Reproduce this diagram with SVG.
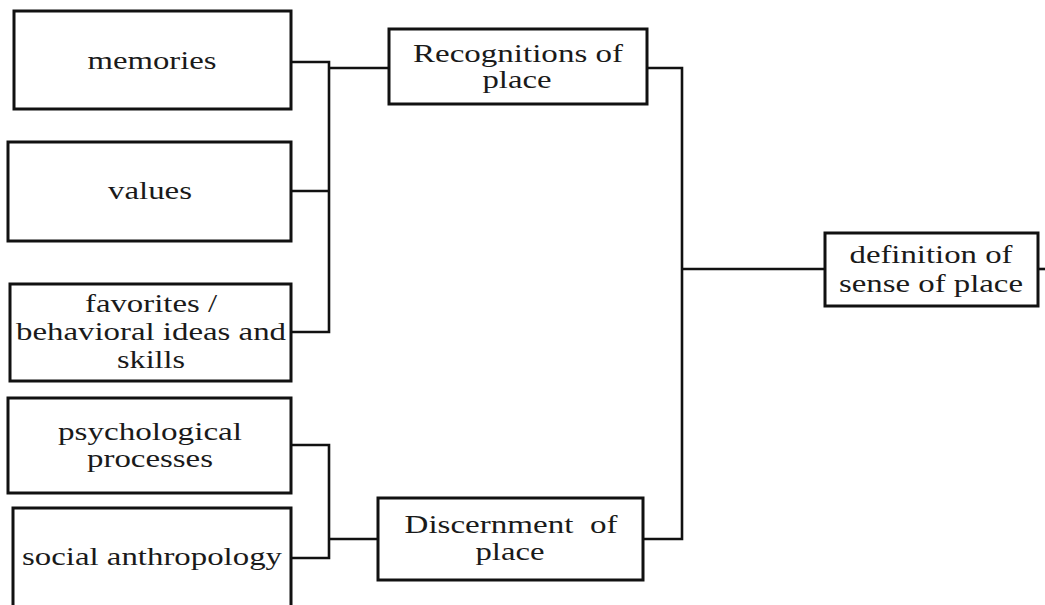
<svg xmlns="http://www.w3.org/2000/svg" width="1045" height="605" viewBox="0 0 1045 605">
  <style>
    .box { fill: #fff; stroke: #111; stroke-width: 3; }
    .wire { fill: none; stroke: #111; stroke-width: 2.6; stroke-linejoin: miter; }
    .lbl { font-family: "Liberation Serif", "Times New Roman", serif; font-size: 25px; fill: #1a1a1a; text-anchor: middle; }
  </style>
  <rect width="1045" height="605" fill="#fff"/>

  <!-- connectors -->
  <g id="connectors">
    <!-- three inputs to Recognitions of place -->
    <path class="wire" d="M291,62 H329 V332 H291"/>
    <path class="wire" d="M291,191 H329"/>
    <path class="wire" d="M329,68 H389"/>
    <!-- two inputs to Discernment of place -->
    <path class="wire" d="M291,445 H329 V558 H291"/>
    <path class="wire" d="M329,539 H378"/>
    <!-- merge into definition -->
    <path class="wire" d="M647,68 H682 V539 H643"/>
    <path class="wire" d="M682,269 H825"/>
    <path class="wire" d="M1038,269 H1045"/>
  </g>

  <g id="memories">
    <rect class="box" x="14" y="11" width="277" height="98"/>
    <text class="lbl" x="152" y="69" textLength="129" lengthAdjust="spacingAndGlyphs">memories</text>
  </g>

  <g id="values">
    <rect class="box" x="8" y="142" width="283" height="99"/>
    <text class="lbl" x="150" y="199" textLength="84" lengthAdjust="spacingAndGlyphs">values</text>
  </g>

  <g id="favorites">
    <rect class="box" x="10" y="284" width="281" height="97"/>
    <text class="lbl" x="151" y="312" textLength="132" lengthAdjust="spacingAndGlyphs">favorites /</text>
    <text class="lbl" x="151" y="340" textLength="270" lengthAdjust="spacingAndGlyphs">behavioral ideas and</text>
    <text class="lbl" x="151" y="368" textLength="68" lengthAdjust="spacingAndGlyphs">skills</text>
  </g>

  <g id="psychological">
    <rect class="box" x="8" y="398" width="283" height="95"/>
    <text class="lbl" x="150" y="440" textLength="184" lengthAdjust="spacingAndGlyphs">psychological</text>
    <text class="lbl" x="150" y="467" textLength="126" lengthAdjust="spacingAndGlyphs">processes</text>
  </g>

  <g id="social">
    <rect class="box" x="13" y="508" width="278" height="110"/>
    <text class="lbl" x="152" y="565" textLength="260" lengthAdjust="spacingAndGlyphs">social anthropology</text>
  </g>

  <g id="recognitions">
    <rect class="box" x="389" y="29" width="258" height="75"/>
    <text class="lbl" x="518" y="62" textLength="210" lengthAdjust="spacingAndGlyphs">Recognitions of</text>
    <text class="lbl" x="517" y="88" textLength="69" lengthAdjust="spacingAndGlyphs">place</text>
  </g>

  <g id="discernment">
    <rect class="box" x="378" y="498" width="265" height="82"/>
    <text class="lbl" x="511" y="533" textLength="213" lengthAdjust="spacingAndGlyphs" xml:space="preserve">Discernment  of</text>
    <text class="lbl" x="510" y="560" textLength="69" lengthAdjust="spacingAndGlyphs">place</text>
  </g>

  <g id="definition">
    <rect class="box" x="825" y="233" width="213" height="73"/>
    <text class="lbl" x="931" y="263" textLength="163" lengthAdjust="spacingAndGlyphs">definition of</text>
    <text class="lbl" x="931" y="292" textLength="184" lengthAdjust="spacingAndGlyphs">sense of place</text>
  </g>
</svg>
